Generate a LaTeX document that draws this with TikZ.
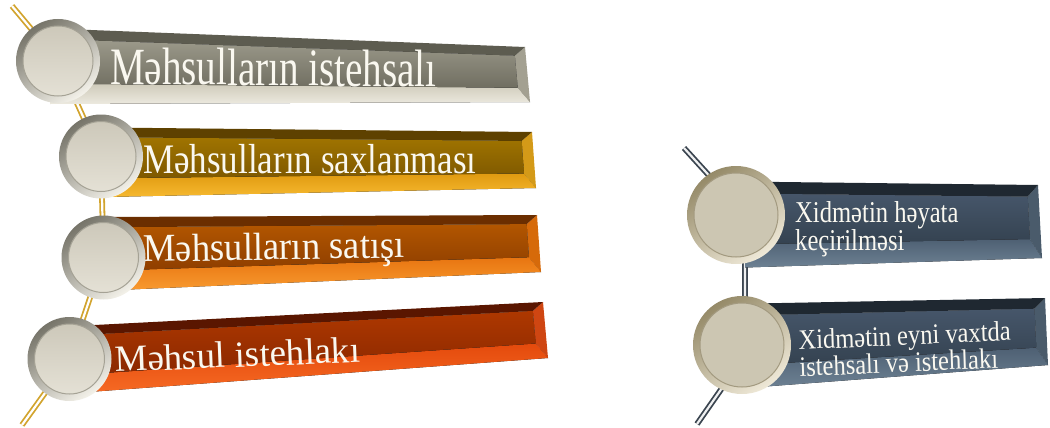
\documentclass[tikz,border=0pt]{standalone}
\usepackage{fontspec}
\setmainfont{Liberation Serif}
\usetikzlibrary{calc}

\pgfdeclarelayer{background}
\pgfsetlayers{background,main}

% connectors and discs
\definecolor{goldline}{HTML}{D2A42E}
\definecolor{slateline}{HTML}{3B4550}
\definecolor{labelwhite}{HTML}{FAF8F0}
\definecolor{ringdarkL}{HTML}{767469}
\definecolor{ringlightL}{HTML}{F4F2EA}
\definecolor{discfillL}{HTML}{DCD7C7}
\definecolor{discedgeL}{HTML}{A5A295}
\definecolor{ringdarkR}{HTML}{958A68}
\definecolor{ringlightR}{HTML}{EFE9D8}
\definecolor{discfillR}{HTML}{CCC6B2}
\definecolor{discedgeR}{HTML}{A39A80}

% bar palettes: A top bevel, B/C face top/bottom, D/E lower bevel top/bottom, F side bevel
\definecolor{grA}{HTML}{5D5C50}
\definecolor{grB}{HTML}{9C9A8B}
\definecolor{grC}{HTML}{706E61}
\definecolor{grD}{HTML}{CFCBBA}
\definecolor{grE}{HTML}{ECE9DF}
\definecolor{grF}{HTML}{A3A091}

\definecolor{goA}{HTML}{5E4100}
\definecolor{goB}{HTML}{A07400}
\definecolor{goC}{HTML}{7E5800}
\definecolor{goD}{HTML}{E09A10}
\definecolor{goE}{HTML}{F6B930}
\definecolor{goF}{HTML}{D49A18}

\definecolor{orA}{HTML}{6B2E00}
\definecolor{orB}{HTML}{B25600}
\definecolor{orC}{HTML}{8E3E00}
\definecolor{orD}{HTML}{E87510}
\definecolor{orE}{HTML}{F89A30}
\definecolor{orF}{HTML}{D66A0A}

\definecolor{rdA}{HTML}{5A1600}
\definecolor{rdB}{HTML}{AE3800}
\definecolor{rdC}{HTML}{8A2800}
\definecolor{rdD}{HTML}{E44A0C}
\definecolor{rdE}{HTML}{F66A24}
\definecolor{rdF}{HTML}{CF4612}

\definecolor{slA}{HTML}{1F2831}
\definecolor{slB}{HTML}{46566A}
\definecolor{slC}{HTML}{344250}
\definecolor{slD}{HTML}{4E6073}
\definecolor{slE}{HTML}{6D8193}
\definecolor{slF}{HTML}{4A5B6B}

% bevelled bar: corners TL, TR, BR, BL, then the palette prefix
\newcommand\bevelbar[5]{%
  \coordinate (q1) at (#1);
  \coordinate (q2) at (#2);
  \coordinate (q3) at (#3);
  \coordinate (q4) at (#4);
  \coordinate (i1) at ($(q1)!0.14!(q4)$);
  \coordinate (i2) at ($($(q2)!0.16!(q3)$)+(-11,0)$);
  \coordinate (i3) at ($($(q2)!0.74!(q3)$)+(-11,0)$);
  \coordinate (i4) at ($(q1)!0.73!(q4)$);
  \fill[top color=#5D, bottom color=#5E] (i4)--(i3)--(q3)--(q4)--cycle;
  \fill[#5F] (q2)--(q3)--(i3)--(i2)--cycle;
  \fill[#5A] (q1)--(q2)--(i2)--(i1)--cycle;
  \fill[top color=#5B, bottom color=#5C] (i1)--(i2)--(i3)--(i4)--cycle;
}

\begin{document}
\begin{tikzpicture}[x=1pt,y=-1pt,
  goldlink/.style={draw=goldline, line width=1.8pt, double=white, double distance=2.2pt},
  slatelink/.style={draw=slateline, line width=1.8pt, double=white!92!slateline, double distance=2.2pt},
  discL/.style={circle, minimum size=84pt, inner sep=0pt,
    top color=ringdarkL, bottom color=ringlightL, shading angle=35,
    path picture={\draw[discedgeL, line width=1pt, top color=discfillL!92!black, bottom color=discfillL!70!white]
      (path picture bounding box.center) circle[radius=35pt];}},
  discR/.style={circle, minimum size=98pt, inner sep=0pt,
    top color=ringdarkR, bottom color=ringlightR, shading angle=35,
    path picture={\draw[discedgeR, line width=1pt, fill=discfillR]
      (path picture bounding box.center) circle[radius=42pt];}},
  bartext/.style={text=labelwhite, inner sep=0pt}]

\useasboundingbox (0,0) rectangle (1050,428);

% bars
\bevelbar{55,28.6}{525,47}{530,102}{50,104}{gr}
\bevelbar{105,127.5}{532,132}{536,188}{105,197}{go}
\bevelbar{105,217}{537,215}{541,272}{105,290.5}{or}
\bevelbar{75,326}{543,302}{548,358}{75,393}{rd}
\bevelbar{745,181.6}{1038,185}{1042,258}{745,267.5}{sl}
\bevelbar{750,303.6}{1045,298}{1048,365}{750,387.7}{sl}

% labels
\node[bartext, anchor=base west, font=\fontsize{39}{39}\selectfont, yscale=1.35, rotate=-0.4]
  (t1) at (110,84) {Məhsulların istehsalı};
\node[bartext, anchor=base west, font=\fontsize{35}{35}\selectfont, yscale=1.2]
  (t2) at (143,173) {Məhsulların saxlanması};
\node[bartext, anchor=base west, font=\fontsize{36.7}{36.7}\selectfont, yscale=1.07, rotate=0.9]
  (t3) at (143,262) {Məhsulların satışı};
\node[bartext, anchor=base west, font=\fontsize{37}{37}\selectfont, rotate=2.3]
  (t4) at (115,372) {Məhsul istehlakı};
\node[bartext, anchor=north west, align=left, font=\fontsize{24.6}{18.7}\selectfont, yscale=1.23]
  (t5) at (795,201) {Xidmətin həyata\\keçirilməsi};
\node[bartext, anchor=north west, align=left, font=\fontsize{24.5}{19}\selectfont, yscale=1.15, rotate=2.2]
  (t6) at (798,330) {Xidmətin eyni vaxtda\\istehsalı və istehlakı};

% discs
\node[discL] (c1) at (58,61) {};
\node[discL] (c2) at (101,156.5) {};
\node[discL] (c3) at (103.5,257.5) {};
\node[discL] (c4) at (69.5,359) {};
\node[discR] (c5) at (736,215) {};
\node[discR] (c6) at (742,345) {};

% connectors behind the discs
\coordinate (gtop) at (12,6);
\coordinate (gbot) at (22,425);
\coordinate (stop) at (684,148);
\coordinate (sbot) at (697,424);
\begin{pgfonlayer}{background}
  \draw[goldlink] (gtop) -- (c1.center) -- (c2.center) -- (c3.center) -- (c4.center) -- (gbot);
  \draw[slatelink] (stop) -- ($(c5.center)+(9,0)$) -- ($(c6.center)+(3,0)$)
    -- ($(c6.center)+(10,0)$) -- (sbot);
\end{pgfonlayer}
\end{tikzpicture}
\end{document}
